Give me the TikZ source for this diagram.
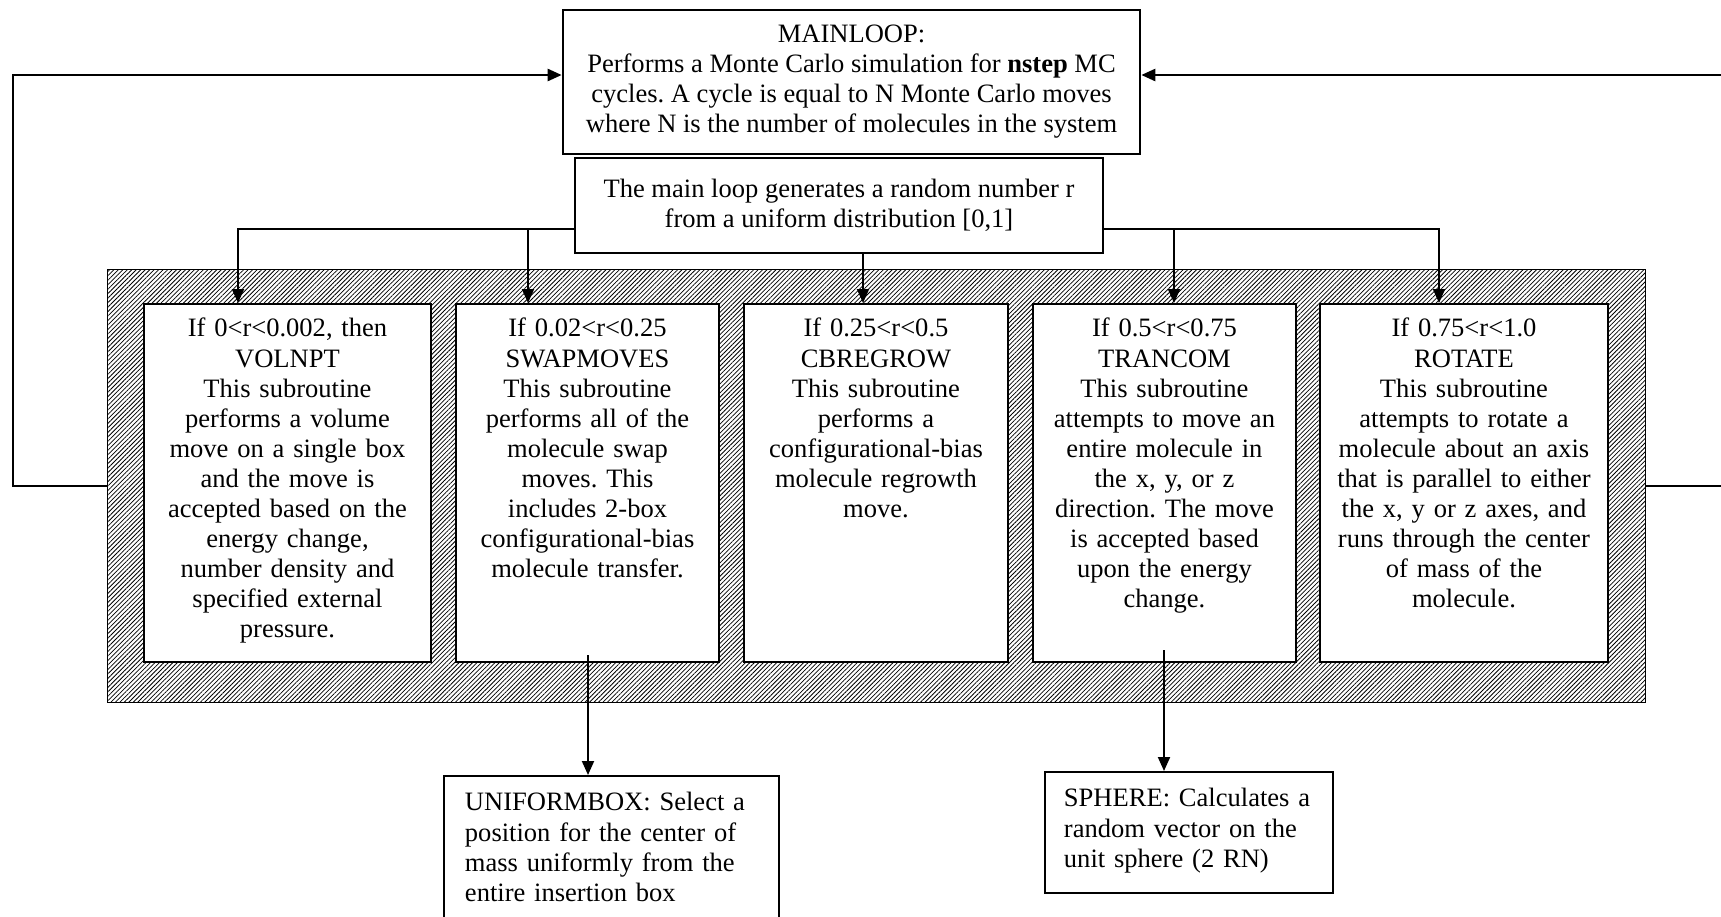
\documentclass[tikz,border=0pt]{standalone}
\usepackage{fontspec}
\setmainfont{Liberation Serif}
\usetikzlibrary{arrows.meta, patterns.meta}
\frenchspacing

\begin{document}
\begin{tikzpicture}[x=0.2mm, y=-0.2mm,
  txt/.style={font={\fontsize{15.1}{17.1}\selectfont}},
  box/.style={draw, line width=1.1pt, fill=white, txt, align=center, inner sep=0pt},
  movebox/.style={box, anchor=north west, text height=0.66cm, text depth=6.5cm},
  subbox/.style={box, anchor=north west, align=left, inner xsep=0.42cm, text height=0.7cm},
  arrow/.style={line width=1.1pt, -{Triangle[length=0.28cm, width=0.24cm]}},
  hatch/.style={draw, line width=0.8pt, pattern={Lines[angle=45, distance=1.8pt, line width=0.45pt]}}]

\useasboundingbox (0,0) rectangle (1721,916);

\node [hatch, anchor=north west, minimum width=30.76cm, minimum height=8.66cm, inner sep=0pt] (frame)
 at (107,269) {};

\node [box, line width=1.5pt, minimum width=11.54cm, minimum height=2.88cm] (mainloop)
 at (851.5,82) {MAINLOOP:\\
Performs a Monte Carlo simulation for \textbf{nstep} MC\\
cycles. A cycle is equal to N Monte Carlo moves\\
where N is the number of molecules in the system};

\node [box, line width=1.3pt, minimum width=10.56cm, minimum height=1.9cm] (randnum)
 at (839,205.5) {The main loop generates a random number r\\
from a uniform distribution [0,1]};

\node [movebox, text width=5.74cm] (volnpt) at (143,303) {If 0<r<0.002, then\\
VOLNPT\\
This subroutine\\
performs a volume\\
move on a single box\\
and the move is\\
accepted based on the\\
energy change,\\
number density and\\
specified external\\
pressure.};

\node [movebox, text width=5.26cm] (swapmoves) at (455,303) {If 0.02<r<0.25\\
SWAPMOVES\\
This subroutine\\
performs all of the\\
molecule swap\\
moves. This\\
includes 2-box\\
configurational-bias\\
molecule transfer.};

\node [movebox, text width=5.28cm] (cbregrow) at (743,303) {If 0.25<r<0.5\\
CBREGROW\\
This subroutine\\
performs a\\
configurational-bias\\
molecule regrowth\\
move.};

\node [movebox, text width=5.26cm] (trancom) at (1032,303) {If 0.5<r<0.75\\
TRANCOM\\
This subroutine\\
attempts to move an\\
entire molecule in\\
the x, y, or z\\
direction. The move\\
is accepted based\\
upon the energy\\
change.};

\node [movebox, text width=5.76cm] (rotmove) at (1319,303) {If 0.75<r<1.0\\
ROTATE\\
This subroutine\\
attempts to rotate a\\
molecule about an axis\\
that is parallel to either\\
the x, y or z axes, and\\
runs through the center\\
of mass of the\\
molecule.};

\node [subbox, text width=5.86cm, text depth=2.6cm] (uniformbox) at (443,775) {UNIFORMBOX: Select a\\
position for the center of\\
mass uniformly from the\\
entire insertion box};

\node [subbox, inner xsep=0.38cm, text width=5.0cm, text depth=1.72cm] (sphere) at (1044,771) {SPHERE: Calculates a\\
random vector on the\\
unit sphere (2 RN)};

\coordinate (lturn) at (13,75);
\coordinate (rturn) at (1724,75);
\coordinate (sw1) at (238,229);
\coordinate (sw2) at (528,229);
\coordinate (sw3) at (863,229);
\coordinate (sw4) at (1174,229);
\coordinate (sw5) at (1439,229);
\coordinate (dn2) at (588,655);
\coordinate (dn4) at (1164,650);

\draw [arrow, line width=1.4pt] (frame.west) -| (lturn) -- (lturn -| mainloop.west);
\draw [arrow, line width=1.4pt] (frame.east) -| (rturn) -- (rturn -| mainloop.east);

\draw [arrow] (sw1 -| randnum.west) -- (sw1) -- (sw1 |- volnpt.north);
\draw [arrow] (sw2) -- (sw2 |- swapmoves.north);
\draw [arrow] (sw3 |- randnum.south) -- (sw3 |- cbregrow.north);
\draw [arrow] (sw5 -| randnum.east) -- (sw5) -- (sw5 |- rotmove.north);
\draw [arrow] (sw4) -- (sw4 |- trancom.north);

\draw [arrow] (dn2) -- (dn2 |- uniformbox.north);
\draw [arrow] (dn4) -- (dn4 |- sphere.north);

\end{tikzpicture}
\end{document}
